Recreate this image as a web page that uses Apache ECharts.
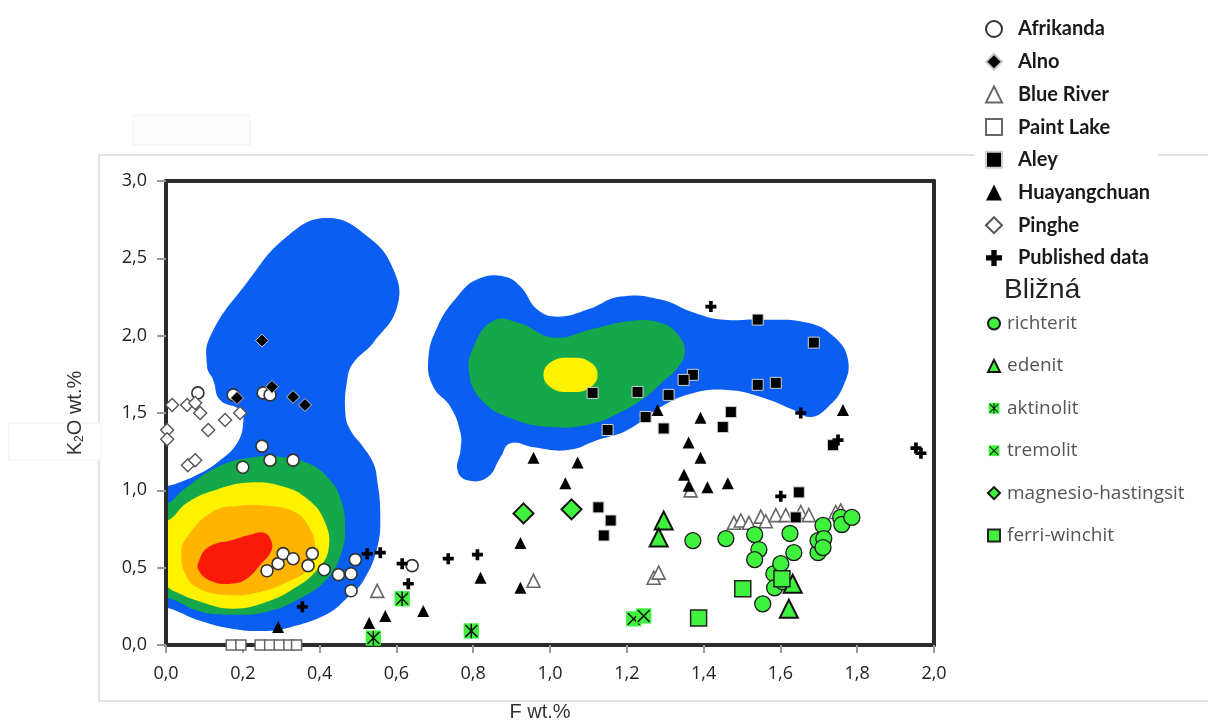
<!DOCTYPE html>
<html>
<head>
<meta charset="utf-8">
<script src="https://cdn.jsdelivr.net/npm/echarts@6/dist/echarts.min.js"></script>
<style>
  html, body { margin: 0; padding: 0; background: #fff; }
  #chart { width: 1208px; height: 722px; }
</style>
</head>
<body>
<div id="chart"></div>
<script>
// ---- Axis ticks ----
const xTicks = [0, 0.2, 0.4, 0.6, 0.8, 1.0, 1.2, 1.4, 1.6, 1.8, 2.0];
const yTicks = [0, 0.5, 1.0, 1.5, 2.0, 2.5, 3.0];

// ---- Reference localities [F wt.%, K2O wt.%] ----
const afrikanda = [[0.083,1.63],[0.175,1.617],[0.253,1.63],[0.271,1.617],[0.25,1.286],[0.2,1.149],[0.271,1.195],[0.331,1.195],[0.263,0.48],[0.292,0.526],[0.305,0.591],[0.331,0.558],[0.381,0.591],[0.37,0.513],[0.412,0.487],[0.449,0.455],[0.482,0.461],[0.493,0.552],[0.482,0.351],[0.641,0.513]];
const alno = [[0.25,1.968],[0.185,1.597],[0.276,1.669],[0.331,1.604],[0.362,1.552]];
const blueRiver = [[0.55,0.35],[0.957,0.415],[1.27,0.435],[1.283,0.468],[1.366,1.0],[1.479,0.79],[1.497,0.805],[1.518,0.79],[1.549,0.83],[1.562,0.8],[1.588,0.84],[1.614,0.84],[1.653,0.86],[1.674,0.84],[1.744,0.86],[1.757,0.87]];
const paintLake = [[0.17,0],[0.195,0],[0.245,0],[0.27,0],[0.295,0],[0.32,0],[0.34,0]];
const aley = [[1.111,1.63],[1.228,1.636],[1.309,1.617],[1.249,1.474],[1.296,1.40],[1.15,1.39],[1.541,2.104],[1.687,1.955],[1.541,1.682],[1.588,1.695],[1.372,1.747],[1.348,1.714],[1.471,1.506],[1.45,1.409],[1.126,0.89],[1.158,0.805],[1.14,0.708],[1.64,0.825],[1.648,0.987],[1.737,1.292]];
const huayangchuan = [[0.292,0.117],[0.529,0.143],[0.571,0.188],[0.67,0.22],[0.819,0.435],[0.923,0.37],[0.923,0.66],[1.04,1.045],[0.957,1.21],[1.072,1.18],[1.28,1.52],[1.392,1.47],[1.361,1.31],[1.392,1.21],[1.349,1.10],[1.361,1.03],[1.41,1.02],[1.463,1.045],[1.763,1.52]];
const pinghe = [[0.016,1.552],[0.055,1.552],[0.076,1.565],[0.089,1.5],[0.11,1.39],[0.154,1.455],[0.193,1.5],[0.003,1.39],[0.003,1.33],[0.057,1.162],[0.076,1.195]];
const publishedData = [[0.355,0.247],[0.524,0.59],[0.558,0.597],[0.615,0.526],[0.631,0.396],[0.735,0.558],[0.811,0.584],[1.419,2.188],[1.653,1.5],[1.75,1.325],[1.601,0.961],[1.953,1.273],[1.966,1.24]];

// ---- Bližná amphiboles ----
const richterit = [[1.372,0.675],[1.458,0.688],[1.533,0.714],[1.544,0.617],[1.533,0.552],[1.554,0.266],[1.583,0.461],[1.585,0.37],[1.601,0.526],[1.606,0.409],[1.625,0.721],[1.635,0.597],[1.698,0.597],[1.698,0.675],[1.711,0.773],[1.713,0.688],[1.711,0.63],[1.757,0.825],[1.76,0.779],[1.786,0.825]];
const edenit = [[1.296,0.805],[1.283,0.695],[1.622,0.234],[1.632,0.396]];
const aktinolit = [[0.54,0.045],[0.615,0.299],[0.795,0.091]];
const tremolit = [[1.218,0.169],[1.244,0.188]];
const magnesioHastingsit = [[0.931,0.851],[1.056,0.877]];
const ferriWinchit = [[1.387,0.175],[1.502,0.364],[1.604,0.429]];

// ---- Density contour outlines [F, K2O] ----
const blueLow = [[-0.03,0.24],[0.005,0.24],[0.089,0.156],[0.175,0.104],[0.263,0.091],[0.316,0.11],[0.42,0.201],[0.472,0.305],[0.514,0.416],[0.55,0.63],[0.558,0.851],[0.55,1.065],[0.54,1.175],[0.514,1.279],[0.48,1.39],[0.467,1.5],[0.472,1.714],[0.488,1.825],[0.54,1.955],[0.602,2.188],[0.592,2.429],[0.524,2.643],[0.42,2.76],[0.316,2.643],[0.211,2.344],[0.115,1.994],[0.107,1.799],[0.123,1.714],[0.141,1.584],[0.193,1.519],[0.201,1.435],[0.185,1.305],[0.141,1.195],[0.089,1.11],[0.029,1.045],[0.005,1.03],[-0.03,1.03]];
const blueHigh = [[0.683,1.844],[0.707,2.058],[0.759,2.253],[0.811,2.364],[0.879,2.383],[0.923,2.318],[0.967,2.169],[1.02,2.123],[1.098,2.169],[1.184,2.253],[1.288,2.234],[1.374,2.149],[1.445,2.104],[1.549,2.104],[1.671,2.084],[1.739,1.994],[1.776,1.844],[1.763,1.669],[1.724,1.539],[1.679,1.474],[1.635,1.519],[1.549,1.604],[1.463,1.649],[1.374,1.63],[1.288,1.539],[1.202,1.39],[1.124,1.325],[1.046,1.26],[0.957,1.279],[0.897,1.305],[0.871,1.214],[0.837,1.084],[0.785,1.065],[0.759,1.13],[0.767,1.26],[0.767,1.37],[0.741,1.539],[0.696,1.669]];
const greenLow = [[-0.03,0.916],[0.005,0.916],[0.044,1.0],[0.133,1.149],[0.219,1.21],[0.297,1.216],[0.368,1.177],[0.42,1.086],[0.456,0.935],[0.466,0.74],[0.456,0.591],[0.422,0.433],[0.349,0.3],[0.263,0.215],[0.175,0.196],[0.089,0.216],[0.005,0.305],[-0.03,0.305]];
const greenHigh = [[0.853,2.097],[0.923,2.078],[1.009,1.987],[1.113,2.045],[1.218,2.097],[1.293,2.078],[1.335,2.0],[1.351,1.896],[1.332,1.792],[1.293,1.701],[1.249,1.604],[1.184,1.506],[1.106,1.429],[1.001,1.409],[0.897,1.468],[0.824,1.578],[0.79,1.747],[0.801,1.929]];
const yellowLow = [[-0.03,0.805],[0.005,0.805],[0.055,0.92],[0.133,1.005],[0.219,1.05],[0.305,1.024],[0.37,0.94],[0.412,0.805],[0.424,0.63],[0.397,0.495],[0.333,0.365],[0.263,0.28],[0.175,0.235],[0.089,0.28],[0.018,0.35],[0.005,0.37],[-0.03,0.37]];
const yellowHigh = [[1.124,1.747],[1.103,1.831],[1.053,1.857],[1.004,1.831],[0.983,1.747],[1.004,1.662],[1.053,1.636],[1.103,1.662]];
const orangeCore = [[0.05,0.68],[0.12,0.86],[0.193,0.9],[0.263,0.9],[0.335,0.86],[0.372,0.765],[0.388,0.63],[0.372,0.495],[0.318,0.41],[0.245,0.343],[0.159,0.323],[0.085,0.365],[0.05,0.46],[0.04,0.59]];
const redCore = [[0.086,0.545],[0.112,0.635],[0.175,0.68],[0.219,0.713],[0.255,0.726],[0.274,0.675],[0.274,0.608],[0.247,0.522],[0.211,0.43],[0.175,0.398],[0.12,0.411],[0.086,0.478]];

const contourLayers = [
  { pts: blueLow, color: '#0a5ef2' },
  { pts: blueHigh, color: '#0a5ef2' },
  { pts: greenLow, color: '#15a84a' },
  { pts: greenHigh, color: '#15a84a' },
  { pts: yellowLow, color: '#fff200' },
  { pts: yellowHigh, color: '#fff200' },
  { pts: orangeCore, color: '#ffb400' },
  { pts: redCore, color: '#fa1a0a' }
];

const GREEN = '#3ef23e';
const svgIcon = (body) => 'image://data:image/svg+xml;charset=utf-8,' + encodeURIComponent(
  "<svg xmlns='http://www.w3.org/2000/svg' width='40' height='40' viewBox='0 0 40 40'>" + body + "</svg>");
const tremolitIcon = svgIcon("<rect x='2' y='2' width='36' height='36' fill='" + GREEN + "'/><path d='M6 6L34 34M34 6L6 34' stroke='#111' stroke-width='3.5'/>");
const aktinolitIcon = svgIcon("<rect x='2' y='2' width='36' height='36' fill='" + GREEN + "'/><path d='M6 6L34 34M34 6L6 34M20 3V37' stroke='#111' stroke-width='3.5'/>");
const plusPath = 'path://M4,0H8V4H12V8H8V12H4V8H0V4H4Z';

const fmt = v => v.toFixed(1).replace('.', ',');
const chart = echarts.init(document.getElementById('chart'), null, { renderer: 'canvas', width: 1208, height: 722 });

const scatter = (name, data, symbol, size, style, z) => ({
  type: 'scatter', name, data, symbol, symbolSize: size,
  itemStyle: Object.assign({ opacity: 1 }, style), z: z || 4,
  emphasis: { disabled: true }, silent: true
});

const legendOne = ['Afrikanda','Alno','Blue River','Paint Lake','Aley','Huayangchuan','Pinghe','Published data'];
const legendTwo = ['richterit','edenit','aktinolit','tremolit','magnesio-hastingsit','ferri-winchit'];

const frameAxis = { show: true, onZero: false, lineStyle: { color: '#2b2b2b', width: 4 } };

chart.setOption({
  animation: false,
  backgroundColor: '#fff',
  graphic: [
    { type: 'rect', z: 0, shape: { x: 99, y: 155, width: 1140, height: 546 },
      style: { fill: 'none', stroke: '#d9d9d9', lineWidth: 1.5 } },
    { type: 'rect', z: 0, shape: { x: 133, y: 115, width: 117, height: 30 },
      style: { fill: '#fdfdfd', stroke: '#f1f1f1', lineWidth: 1 } },
    { type: 'rect', z: 1, shape: { x: 9, y: 423, width: 92, height: 37 },
      style: { fill: '#fff', stroke: '#efefef', lineWidth: 1 } }
  ],
  title: {
    text: 'Bližná', left: 1004, top: 276, padding: 0,
    textStyle: { fontFamily: 'Liberation Sans', fontSize: 28, fontWeight: 'normal', color: '#222' }
  },
  legend: [
    {
      data: legendOne, orient: 'vertical', left: 975, top: 10,
      backgroundColor: '#fff', padding: [9, 8, 8, 10],
      itemWidth: 16, itemHeight: 16, itemGap: 12.7,
      selectedMode: false,
      textStyle: { fontFamily: 'Lato', fontWeight: 'bold', fontSize: 20, color: '#1a1a1a', padding: [0, 0, 0, 11] }
    },
    {
      data: legendTwo, orient: 'vertical', left: 982, top: 309,
      itemWidth: 12, itemHeight: 12, itemGap: 23.4,
      selectedMode: false,
      textStyle: { fontFamily: 'Open Sans', fontSize: 19, color: '#555', padding: [0, 0, 0, 2] }
    }
  ],
  grid: { left: 166, top: 181, width: 768, height: 464, containLabel: false, outerBoundsMode: 'none' },
  xAxis: [
    {
      type: 'value', min: xTicks[0], max: xTicks[xTicks.length - 1], interval: 0.2, z: 3,
      name: 'F wt.%', nameLocation: 'middle', nameGap: 57,
      nameTextStyle: { fontFamily: 'Liberation Sans', fontSize: 20, color: '#333', padding: [0, 20, 0, 0] },
      axisLine: frameAxis,
      axisTick: { show: true, length: 8, lineStyle: { color: '#9a9a9a', width: 2 } },
      axisLabel: { formatter: fmt, margin: 20, fontFamily: 'Open Sans', fontSize: 18, color: '#222' },
      splitLine: { show: false }
    },
    {
      type: 'value', position: 'top', min: 0, max: 2, z: 3,
      axisLine: frameAxis,
      axisTick: { show: false }, axisLabel: { show: false }, splitLine: { show: false }
    }
  ],
  yAxis: [
    {
      type: 'value', min: yTicks[0], max: yTicks[yTicks.length - 1], interval: 0.5, z: 3,
      name: '{a|K}{s|2}{a|O wt.%}', nameLocation: 'middle', nameGap: 80,
      nameTextStyle: {
        rich: {
          a: { fontFamily: 'Liberation Sans', fontSize: 20, color: '#333' },
          s: { fontFamily: 'Liberation Sans', fontSize: 12, color: '#333', padding: [10, 0, 0, 0] }
        }
      },
      axisLine: frameAxis,
      axisTick: { show: true, length: 9, lineStyle: { color: '#9a9a9a', width: 2 } },
      axisLabel: { formatter: fmt, margin: 19, fontFamily: 'Open Sans', fontSize: 18, color: '#222' },
      splitLine: { show: false }
    },
    {
      type: 'value', position: 'right', min: 0, max: 3, z: 3,
      axisLine: frameAxis,
      axisTick: { show: false }, axisLabel: { show: false }, splitLine: { show: false }
    }
  ],
  series: [
    {
      type: 'custom', name: 'density', z: 1, clip: true, silent: true,
      data: contourLayers.map(() => [0, 0]),
      renderItem: (params, api) => {
        const layer = contourLayers[params.dataIndex];
        return {
          type: 'polygon',
          shape: { points: layer.pts.map(p => api.coord(p)), smooth: 0.45 },
          style: { fill: layer.color, stroke: null }
        };
      }
    },
    scatter('Afrikanda', afrikanda, 'circle', 12, { color: '#fff', borderColor: '#333', borderWidth: 1.6 }),
    scatter('Alno', alno, 'diamond', 13, { color: '#000', borderColor: '#c8c8c8', borderWidth: 1 }),
    scatter('Blue River', blueRiver, 'triangle', 13, { color: '#fff', borderColor: '#666', borderWidth: 1.6 }),
    scatter('Paint Lake', paintLake, 'rect', 10, { color: '#fff', borderColor: '#666', borderWidth: 1.5 }, 5),
    scatter('Aley', aley, 'rect', 11, { color: '#000', borderColor: '#d0d0d0', borderWidth: 1 }),
    scatter('Huayangchuan', huayangchuan, 'triangle', 12, { color: '#000' }),
    scatter('Pinghe', pinghe, 'diamond', 13, { color: '#fff', borderColor: '#555', borderWidth: 1.4 }),
    scatter('Published data', publishedData, plusPath, 11, { color: '#000' }),
    scatter('richterit', richterit, 'circle', 16, { color: GREEN, borderColor: '#1a1a1a', borderWidth: 1.3 }, 6),
    scatter('edenit', edenit, 'triangle', 18, { color: GREEN, borderColor: '#111', borderWidth: 2 }, 6),
    scatter('aktinolit', aktinolit, aktinolitIcon, 17, {}, 6),
    scatter('tremolit', tremolit, tremolitIcon, 17, {}, 6),
    scatter('magnesio-hastingsit', magnesioHastingsit, 'diamond', 20, { color: GREEN, borderColor: '#111', borderWidth: 2 }, 6),
    scatter('ferri-winchit', ferriWinchit, 'rect', 16, { color: GREEN, borderColor: '#222', borderWidth: 1.5 }, 6)
  ]
});
</script>
</body>
</html>
